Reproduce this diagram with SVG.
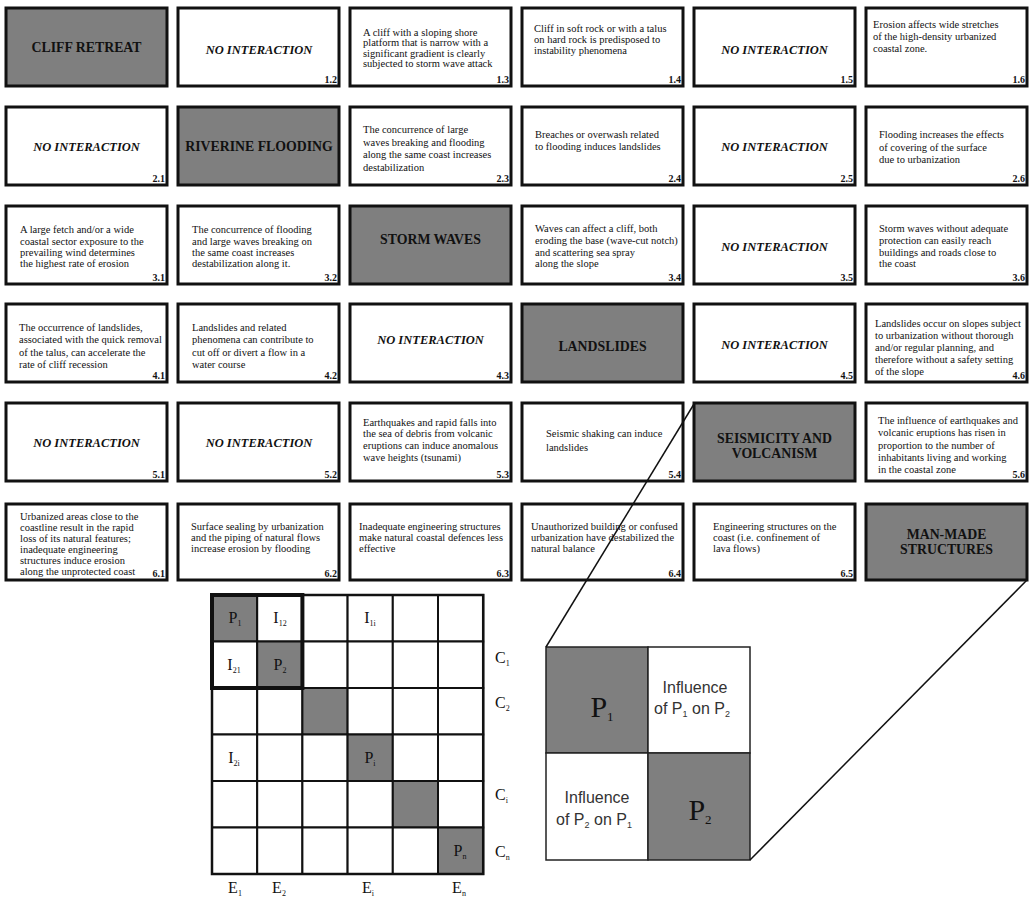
<svg xmlns="http://www.w3.org/2000/svg" width="1030" height="900" viewBox="0 0 1030 900">
<style>
.box{fill:#fff;stroke:#111;stroke-width:3}
.gbox{fill:#7f7f7f;stroke:#111;stroke-width:3}
text{font-family:"Liberation Serif","Times New Roman",serif;fill:#111}
.t{font-size:10.5px}
.ti{font-size:13.8px;font-weight:bold;text-anchor:middle;fill:#111}
.ni{font-size:12.5px;font-weight:bold;font-style:italic;text-anchor:middle}
.n{font-size:10px;font-weight:bold;text-anchor:end}
.cell{fill:#fff;stroke:#111;stroke-width:2}
.gcell{fill:#7f7f7f;stroke:#111;stroke-width:2}
.m{font-size:16px;text-anchor:middle}
.lab{font-size:16px}
.zs{fill:#fff;stroke:#222;stroke-width:1.5}
.zg{fill:#7f7f7f;stroke:#222;stroke-width:1.5}
.sans{font-family:"Liberation Sans",Arial,sans-serif;font-size:16px;text-anchor:middle;fill:#333}
.big{font-size:30px;text-anchor:middle}
.con{stroke:#111;stroke-width:1.5;fill:none}
</style>

<!-- Row 1 -->
<g id="n11"><rect class="gbox" x="6" y="8" width="161" height="78"/><text class="ti" x="86.5" y="52">CLIFF RETREAT</text></g>
<g id="n12"><rect class="box" x="178" y="8" width="161" height="78"/><text class="ni" x="259" y="54">NO INTERACTION</text><text class="n" x="337" y="83">1.2</text></g>
<g id="n13"><rect class="box" x="350" y="8" width="161" height="78"/><text class="t"><tspan x="363" y="35.5">A cliff with a sloping shore</tspan><tspan x="363" y="46">platform  that is  narrow with a</tspan><tspan x="363" y="56.5">significant gradient is clearly</tspan><tspan x="363" y="67">subjected to storm wave attack</tspan></text><text class="n" x="509" y="83">1.3</text></g>
<g id="n14"><rect class="box" x="522" y="8" width="161" height="78"/><text class="t"><tspan x="534" y="32">Cliff in soft rock or  with a talus</tspan><tspan x="534" y="43">on hard rock is predisposed to</tspan><tspan x="534" y="54">instability phenomena</tspan></text><text class="n" x="681" y="83">1.4</text></g>
<g id="n15"><rect class="box" x="694" y="8" width="161" height="78"/><text class="ni" x="774.5" y="54">NO INTERACTION</text><text class="n" x="853" y="83">1.5</text></g>
<g id="n16"><rect class="box" x="866" y="8" width="161" height="78"/><text class="t"><tspan x="873" y="28">Erosion affects wide stretches</tspan><tspan x="873" y="40">of the high-density urbanized</tspan><tspan x="873" y="52">coastal zone.</tspan></text><text class="n" x="1025" y="83">1.6</text></g>

<!-- Row 2 -->
<g id="n21"><rect class="box" x="6" y="107" width="161" height="78"/><text class="ni" x="86.5" y="151">NO INTERACTION</text><text class="n" x="165" y="182">2.1</text></g>
<g id="n22"><rect class="gbox" x="178" y="107" width="161" height="78"/><text class="ti" x="259" y="151">RIVERINE FLOODING</text></g>
<g id="n23"><rect class="box" x="350" y="107" width="161" height="78"/><text class="t"><tspan x="363" y="132.5">The concurrence of large</tspan><tspan x="363" y="145.5">waves breaking and flooding</tspan><tspan x="363" y="158">along the same coast increases</tspan><tspan x="363" y="170.5">destabilization</tspan></text><text class="n" x="509" y="182">2.3</text></g>
<g id="n24"><rect class="box" x="522" y="107" width="161" height="78"/><text class="t"><tspan x="535" y="138">Breaches or overwash related</tspan><tspan x="535" y="150">to flooding induces landslides</tspan></text><text class="n" x="681" y="182">2.4</text></g>
<g id="n25"><rect class="box" x="694" y="107" width="161" height="78"/><text class="ni" x="774.5" y="151">NO INTERACTION</text><text class="n" x="853" y="182">2.5</text></g>
<g id="n26"><rect class="box" x="866" y="107" width="161" height="78"/><text class="t"><tspan x="879" y="137.5">Flooding increases the effects</tspan><tspan x="879" y="150.5">of covering of the surface</tspan><tspan x="879" y="162.5">due to urbanization</tspan></text><text class="n" x="1025" y="182">2.6</text></g>

<!-- Row 3 -->
<g id="n31"><rect class="box" x="6" y="206" width="161" height="78"/><text class="t"><tspan x="20" y="232.5">A large fetch and/or a wide</tspan><tspan x="20" y="244.5">coastal sector exposure to the</tspan><tspan x="20" y="255.5">prevailing wind determines</tspan><tspan x="20" y="266.5">the highest rate of erosion</tspan></text><text class="n" x="165" y="281">3.1</text></g>
<g id="n32"><rect class="box" x="178" y="206" width="161" height="78"/><text class="t"><tspan x="192" y="232.5">The concurrence of flooding</tspan><tspan x="192" y="244.5">and large waves breaking on</tspan><tspan x="192" y="255.5">the same coast  increases</tspan><tspan x="192" y="266.5">destabilization along it.</tspan></text><text class="n" x="337" y="281">3.2</text></g>
<g id="n33"><rect class="gbox" x="350" y="206" width="161" height="78"/><text class="ti" x="430.5" y="244">STORM WAVES</text></g>
<g id="n34"><rect class="box" x="522" y="206" width="161" height="78"/><text class="t"><tspan x="535" y="231.5">Waves can affect a cliff, both</tspan><tspan x="535" y="243.5">eroding the base (wave-cut notch)</tspan><tspan x="535" y="255.5">and scattering  sea spray</tspan><tspan x="535" y="266.5">along the slope</tspan></text><text class="n" x="681" y="281">3.4</text></g>
<g id="n35"><rect class="box" x="694" y="206" width="161" height="78"/><text class="ni" x="774.5" y="251">NO INTERACTION</text><text class="n" x="853" y="281">3.5</text></g>
<g id="n36"><rect class="box" x="866" y="206" width="161" height="78"/><text class="t"><tspan x="879" y="231.5">Storm waves without adequate</tspan><tspan x="879" y="243.5">protection can easily reach</tspan><tspan x="879" y="255.5">buildings and roads close to</tspan><tspan x="879" y="266.5">the coast</tspan></text><text class="n" x="1025" y="281">3.6</text></g>

<!-- Row 4 -->
<g id="n41"><rect class="box" x="6" y="304" width="161" height="78"/><text class="t"><tspan x="19" y="330.5">The occurrence of landslides,</tspan><tspan x="19" y="343">associated with the quick removal</tspan><tspan x="19" y="355.5">of the talus, can accelerate the</tspan><tspan x="19" y="367.5">rate of cliff recession</tspan></text><text class="n" x="165" y="379">4.1</text></g>
<g id="n42"><rect class="box" x="178" y="304" width="161" height="78"/><text class="t"><tspan x="192" y="330.5">Landslides and related</tspan><tspan x="192" y="343">phenomena can contribute to</tspan><tspan x="192" y="355.5">cut off or divert a flow in a</tspan><tspan x="192" y="367.5">water course</tspan></text><text class="n" x="337" y="379">4.2</text></g>
<g id="n43"><rect class="box" x="350" y="304" width="161" height="78"/><text class="ni" x="430.5" y="344">NO INTERACTION</text><text class="n" x="509" y="379">4.3</text></g>
<g id="n44"><rect class="gbox" x="522" y="304" width="161" height="78"/><text class="ti" x="602.5" y="350.5">LANDSLIDES</text></g>
<g id="n45"><rect class="box" x="694" y="304" width="161" height="78"/><text class="ni" x="774.5" y="349">NO INTERACTION</text><text class="n" x="853" y="379">4.5</text></g>
<g id="n46"><rect class="box" x="866" y="304" width="161" height="78"/><text class="t"><tspan x="875" y="326.5">Landslides occur on slopes subject</tspan><tspan x="875" y="338.5">to urbanization without thorough</tspan><tspan x="875" y="350.5">and/or regular planning, and</tspan><tspan x="875" y="363">therefore without a safety setting</tspan><tspan x="875" y="375">of the slope</tspan></text><text class="n" x="1025" y="379">4.6</text></g>

<!-- Row 5 -->
<g id="n51"><rect class="box" x="6" y="403" width="161" height="78"/><text class="ni" x="86.5" y="447">NO INTERACTION</text><text class="n" x="165" y="478">5.1</text></g>
<g id="n52"><rect class="box" x="178" y="403" width="161" height="78"/><text class="ni" x="259" y="447">NO INTERACTION</text><text class="n" x="337" y="478">5.2</text></g>
<g id="n53"><rect class="box" x="350" y="403" width="161" height="78"/><text class="t"><tspan x="363" y="425.5">Earthquakes and rapid falls into</tspan><tspan x="363" y="437">the sea of debris from volcanic</tspan><tspan x="363" y="448.5">eruptions can induce anomalous</tspan><tspan x="363" y="460.5">wave heights (tsunami)</tspan></text><text class="n" x="509" y="478">5.3</text></g>
<g id="n54"><rect class="box" x="522" y="403" width="161" height="78"/><text class="t"><tspan x="546" y="436.5">Seismic shaking can induce</tspan><tspan x="546" y="450.5">landslides</tspan></text><text class="n" x="681" y="478">5.4</text></g>
<g id="n55"><rect class="gbox" x="694" y="403" width="161" height="78"/><text class="ti"><tspan x="774.5" y="442.5">SEISMICITY AND</tspan><tspan x="774.5" y="457.5">VOLCANISM</tspan></text></g>
<g id="n56"><rect class="box" x="866" y="403" width="161" height="78"/><text class="t"><tspan x="878" y="423.5">The influence of earthquakes and</tspan><tspan x="878" y="436">volcanic eruptions has risen in</tspan><tspan x="878" y="448.5">proportion to the number of</tspan><tspan x="878" y="460.5">inhabitants living and working</tspan><tspan x="878" y="472.5">in the coastal zone</tspan></text><text class="n" x="1025" y="478">5.6</text></g>

<!-- Row 6 -->
<g id="n61"><rect class="box" x="6" y="504" width="161" height="76"/><text class="t"><tspan x="20" y="519.5">Urbanized areas close to the</tspan><tspan x="20" y="530.5">coastline result in the rapid</tspan><tspan x="20" y="541.5">loss of its natural features;</tspan><tspan x="20" y="552.5">inadequate engineering</tspan><tspan x="20" y="563.5">structures induce erosion</tspan><tspan x="20" y="574.5">along the unprotected coast</tspan></text><text class="n" x="165" y="577">6.1</text></g>
<g id="n62"><rect class="box" x="178" y="504" width="161" height="76"/><text class="t"><tspan x="191" y="529.5">Surface sealing by urbanization</tspan><tspan x="191" y="540.5">and the piping of natural flows</tspan><tspan x="191" y="551.5">increase erosion by flooding</tspan></text><text class="n" x="337" y="577">6.2</text></g>
<g id="n63"><rect class="box" x="350" y="504" width="161" height="76"/><text class="t"><tspan x="359" y="529.5">Inadequate engineering structures</tspan><tspan x="359" y="540.5">make natural coastal defences less</tspan><tspan x="359" y="551.5">effective</tspan></text><text class="n" x="509" y="577">6.3</text></g>
<g id="n64"><rect class="box" x="522" y="504" width="161" height="76"/><text class="t"><tspan x="531" y="529.5">Unauthorized building or confused</tspan><tspan x="531" y="540.5">urbanization have destabilized the</tspan><tspan x="531" y="551.5">natural balance</tspan></text><text class="n" x="681" y="577">6.4</text></g>
<g id="n65"><rect class="box" x="694" y="504" width="161" height="76"/><text class="t"><tspan x="713" y="529.5">Engineering structures on the</tspan><tspan x="713" y="540.5">coast (i.e. confinement of</tspan><tspan x="713" y="551.5">lava flows)</tspan></text><text class="n" x="853" y="577">6.5</text></g>
<g id="n66"><rect class="gbox" x="866" y="504" width="161" height="76"/><text class="ti"><tspan x="946.5" y="538.5">MAN-MADE</tspan><tspan x="946.5" y="553.5">STRUCTURES</tspan></text></g>

<!-- Matrix -->
<g id="matrix">
<g class="cells">
<rect class="gcell" x="212" y="595" width="45.2" height="46.5"/>
<rect class="cell" x="257.2" y="595" width="45.2" height="46.5"/>
<rect class="cell" x="302.4" y="595" width="45.2" height="46.5"/>
<rect class="cell" x="347.6" y="595" width="45.2" height="46.5"/>
<rect class="cell" x="392.8" y="595" width="45.2" height="46.5"/>
<rect class="cell" x="438" y="595" width="45.2" height="46.5"/>
<rect class="cell" x="212" y="641.5" width="45.2" height="46.5"/>
<rect class="gcell" x="257.2" y="641.5" width="45.2" height="46.5"/>
<rect class="cell" x="302.4" y="641.5" width="45.2" height="46.5"/>
<rect class="cell" x="347.6" y="641.5" width="45.2" height="46.5"/>
<rect class="cell" x="392.8" y="641.5" width="45.2" height="46.5"/>
<rect class="cell" x="438" y="641.5" width="45.2" height="46.5"/>
<rect class="cell" x="212" y="688" width="45.2" height="46.5"/>
<rect class="cell" x="257.2" y="688" width="45.2" height="46.5"/>
<rect class="gcell" x="302.4" y="688" width="45.2" height="46.5"/>
<rect class="cell" x="347.6" y="688" width="45.2" height="46.5"/>
<rect class="cell" x="392.8" y="688" width="45.2" height="46.5"/>
<rect class="cell" x="438" y="688" width="45.2" height="46.5"/>
<rect class="cell" x="212" y="734.5" width="45.2" height="46.5"/>
<rect class="cell" x="257.2" y="734.5" width="45.2" height="46.5"/>
<rect class="cell" x="302.4" y="734.5" width="45.2" height="46.5"/>
<rect class="gcell" x="347.6" y="734.5" width="45.2" height="46.5"/>
<rect class="cell" x="392.8" y="734.5" width="45.2" height="46.5"/>
<rect class="cell" x="438" y="734.5" width="45.2" height="46.5"/>
<rect class="cell" x="212" y="781" width="45.2" height="46.5"/>
<rect class="cell" x="257.2" y="781" width="45.2" height="46.5"/>
<rect class="cell" x="302.4" y="781" width="45.2" height="46.5"/>
<rect class="cell" x="347.6" y="781" width="45.2" height="46.5"/>
<rect class="gcell" x="392.8" y="781" width="45.2" height="46.5"/>
<rect class="cell" x="438" y="781" width="45.2" height="46.5"/>
<rect class="cell" x="212" y="827.5" width="45.2" height="46.5"/>
<rect class="cell" x="257.2" y="827.5" width="45.2" height="46.5"/>
<rect class="cell" x="302.4" y="827.5" width="45.2" height="46.5"/>
<rect class="cell" x="347.6" y="827.5" width="45.2" height="46.5"/>
<rect class="cell" x="392.8" y="827.5" width="45.2" height="46.5"/>
<rect class="gcell" x="438" y="827.5" width="45.2" height="46.5"/>
</g>
<rect x="212" y="595" width="271.2" height="279" fill="none" stroke="#111" stroke-width="2.5"/>
<rect x="212" y="595" width="90.4" height="93" fill="none" stroke="#111" stroke-width="4"/>
<text class="m" x="235" y="623">P<tspan font-size="8" dy="3">1</tspan></text>
<text class="m" x="280" y="623">I<tspan font-size="8" dy="3">12</tspan></text>
<text class="m" x="370" y="623">I<tspan font-size="8" dy="3">1i</tspan></text>
<text class="m" x="234" y="669.5">I<tspan font-size="8" dy="3">21</tspan></text>
<text class="m" x="280" y="669.5">P<tspan font-size="8" dy="3">2</tspan></text>
<text class="m" x="234" y="762.5">I<tspan font-size="8" dy="3">2i</tspan></text>
<text class="m" x="370" y="762.5">P<tspan font-size="8" dy="3">i</tspan></text>
<text class="m" x="460" y="855.5">P<tspan font-size="8" dy="3">n</tspan></text>
<text class="lab" x="495" y="663">C<tspan font-size="8" dy="3">1</tspan></text>
<text class="lab" x="495" y="708">C<tspan font-size="8" dy="3">2</tspan></text>
<text class="lab" x="495" y="800">C<tspan font-size="8" dy="3">i</tspan></text>
<text class="lab" x="495" y="857">C<tspan font-size="8" dy="3">n</tspan></text>
<text class="m" x="235" y="893">E<tspan font-size="8" dy="3">1</tspan></text>
<text class="m" x="279" y="893">E<tspan font-size="8" dy="3">2</tspan></text>
<text class="m" x="368" y="893">E<tspan font-size="8" dy="3">i</tspan></text>
<text class="m" x="459" y="893">E<tspan font-size="8" dy="3">n</tspan></text>
</g>

<!-- Zoomed detail -->
<g id="detail">
<rect class="zg" x="546" y="647" width="102" height="106"/>
<rect class="zs" x="648" y="647" width="102" height="106"/>
<rect class="zs" x="546" y="753" width="102" height="107"/>
<rect class="zg" x="648" y="753" width="102" height="107"/>
<text class="big" x="602" y="717">P<tspan font-size="13" dy="4">1</tspan></text>
<text class="big" x="700" y="820">P<tspan font-size="13" dy="4">2</tspan></text>
<text class="sans"><tspan x="695" y="693">Influence</tspan><tspan x="692" y="714">of P<tspan font-size="9" dy="3">1</tspan><tspan dy="-3"> on P</tspan><tspan font-size="9" dy="3">2</tspan></tspan></text>
<text class="sans"><tspan x="597" y="803">Influence</tspan><tspan x="594" y="825">of P<tspan font-size="9" dy="3">2</tspan><tspan dy="-3"> on P</tspan><tspan font-size="9" dy="3">1</tspan></tspan></text>
</g>

<g id="connectors">
<line class="con" x1="694" y1="404" x2="546" y2="647"/>
<line class="con" x1="1027" y1="580" x2="750" y2="860"/>
</g>
</svg>
